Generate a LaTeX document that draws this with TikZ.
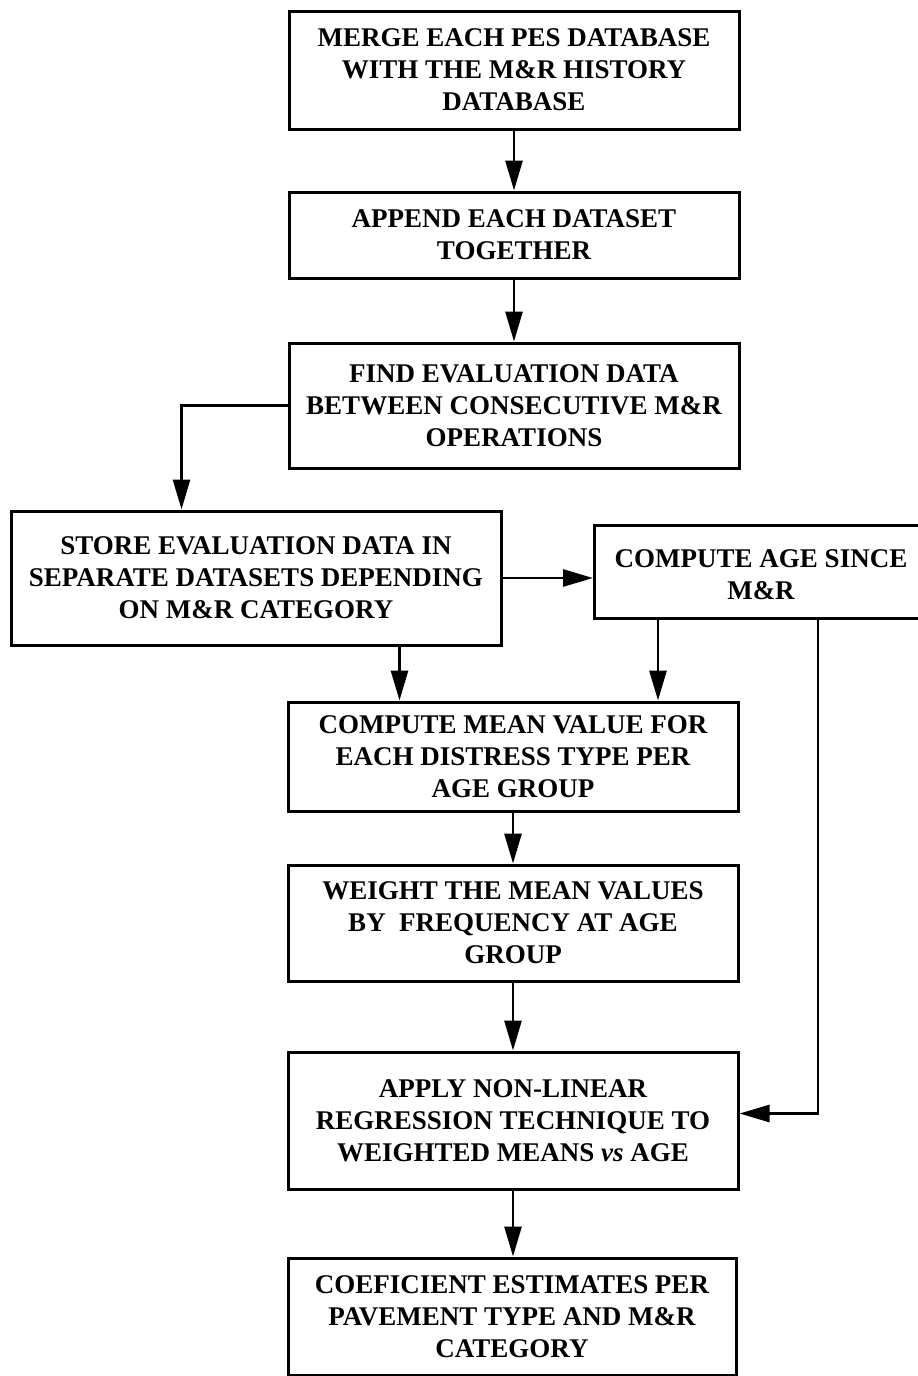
\documentclass[tikz,border=0pt]{standalone}
\usepackage{fontspec}
\setmainfont{Liberation Serif}
\usetikzlibrary{arrows.meta,calc}
\begin{document}
\begin{tikzpicture}[x=1pt,y=-1pt,
  txt/.style={font=\bfseries\fontsize{27}{32}\selectfont,align=center},
  box/.style={draw,line width=3pt,inner sep=0pt,txt},
  arr/.style={line width=2.8pt,-{Triangle[length=30pt,width=17pt]}}]
\useasboundingbox (0,0) rectangle (918,1376);
\node[box,minimum width=450pt,minimum height=118pt] (b1) at (514,70)
  {MERGE EACH PES DATABASE\\WITH THE M\&R HISTORY\\DATABASE};
\node[box,minimum width=450pt,minimum height=86pt] (b2) at (514,235)
  {APPEND EACH DATASET\\TOGETHER};
\node[box,minimum width=450pt,minimum height=125pt] (b3) at (514,405.5)
  {FIND EVALUATION DATA\\BETWEEN CONSECUTIVE M\&R\\OPERATIONS};
\node[box,minimum width=490pt,minimum height=134pt] (b4) at (256,578)
  {STORE EVALUATION DATA IN\\SEPARATE DATASETS DEPENDING\\ON M\&R CATEGORY};
\node[box,minimum width=340pt,minimum height=93pt,anchor=west] (b5) at (593,572)
  {};
\node[txt] (t5) at (761,575)
  {COMPUTE AGE SINCE\\M\&R};
\node[box,minimum width=450pt,minimum height=109pt] (b6) at (513,756.5)
  {COMPUTE MEAN VALUE FOR\\EACH DISTRESS TYPE PER\\AGE GROUP};
\node[box,minimum width=450pt,minimum height=116pt] (b7) at (513,923)
  {WEIGHT THE MEAN VALUES\\BY\ \ FREQUENCY AT AGE\\GROUP};
\node[box,minimum width=450pt,minimum height=137pt] (b8) at (513,1120.5)
  {APPLY NON-LINEAR\\REGRESSION TECHNIQUE TO\\WEIGHTED MEANS \textit{vs} AGE};
\node[box,minimum width=448pt,minimum height=117pt] (b9) at (512,1316.5)
  {COEFICIENT ESTIMATES PER\\PAVEMENT TYPE AND M\&R\\CATEGORY};
\coordinate (p1) at ([xshift=390pt]b4.south west);
\coordinate (p2) at ([xshift=65pt]b5.south west);
\coordinate (p3) at ([xshift=225pt]b5.south west);
\draw[arr] (b1) -- (b2);
\draw[arr] (b2) -- (b3);
\draw[arr] (b3.west) -| ([xshift=172pt]b4.north west);
\draw[arr] (b4.east) -- (b4.east -| b5.west);
\draw[arr] (p1) -- (p1 |- b6.north);
\draw[arr] (p2) -- (p2 |- b6.north);
\draw[arr] (p3) |- ([yshift=7pt]b8.east);
\draw[arr] (b6) -- (b7);
\draw[arr] (b7.south) -- (b7.south |- b8.north);
\draw[arr] (b8.south) -- (b8.south |- b9.north);
\end{tikzpicture}
\end{document}
